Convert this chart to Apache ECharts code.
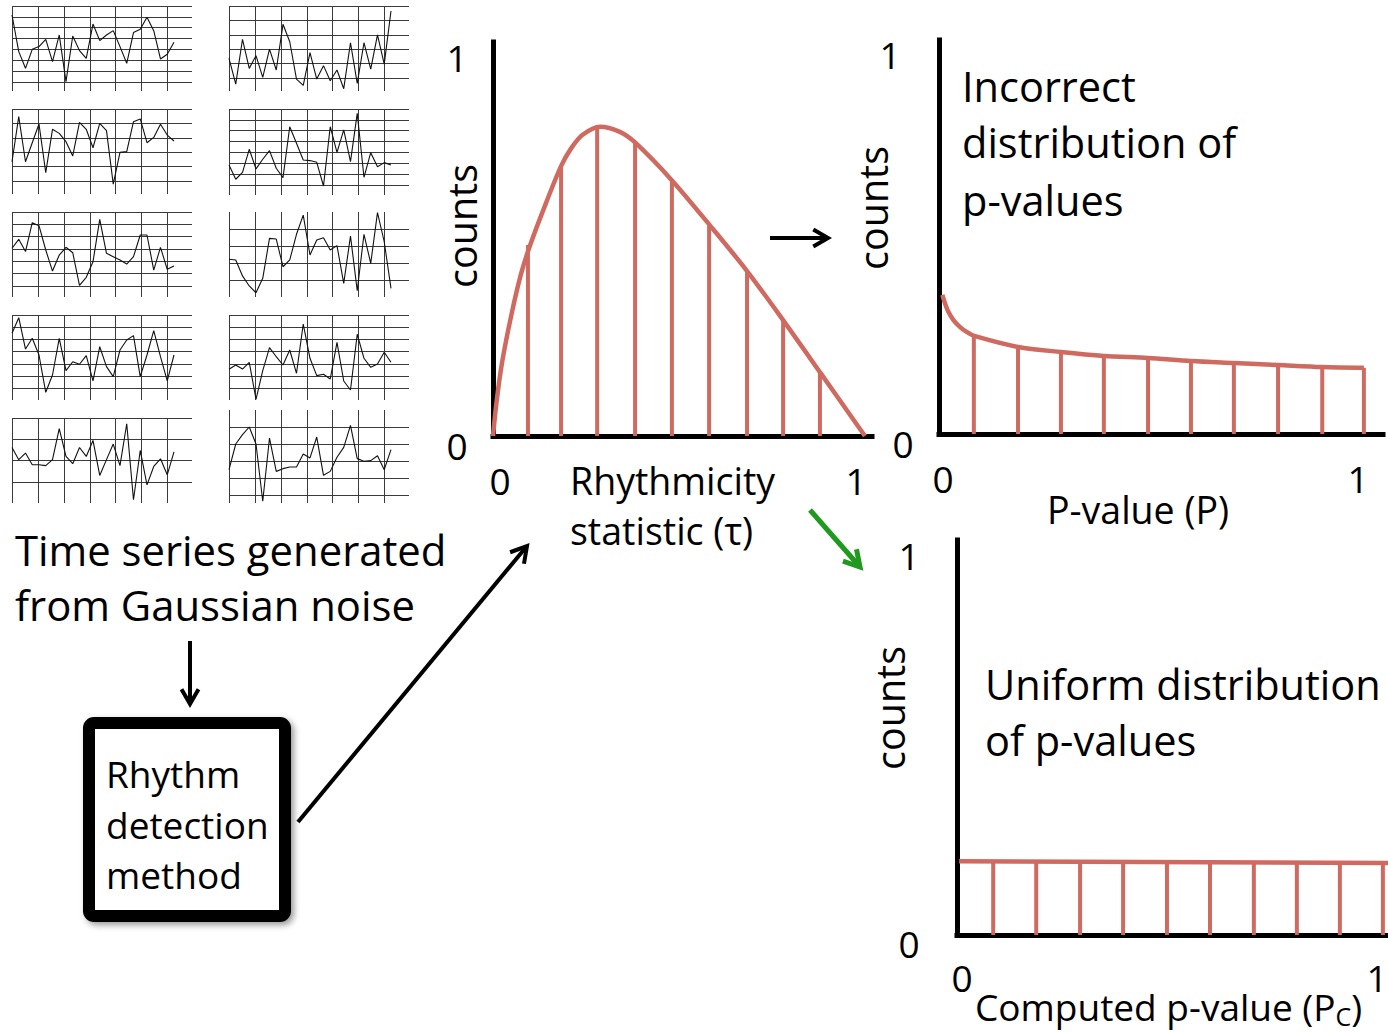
<!DOCTYPE html>
<html><head><meta charset="utf-8">
<script src="https://cdn.jsdelivr.net/npm/echarts@6/dist/echarts.min.js"></script>
<style>html,body{margin:0;padding:0;background:#fff}#c{width:1388px;height:1032px}</style>
</head><body><div id="c"></div>
<script>
// ---- Gaussian-noise time series (grid units, measured downward from the top grid line)
const ts1 = [0.83,4.2,5.74,3.99,3.74,3.07,5.12,2.67,6.96,2.76,4.11,4.82,1.66,3.19,2.67,2.27,3.74,5.28,2.45,2.15,1.04,2.27,4.88,4.45,3.34];
const ts2 = [3.63,5.42,2.31,4.33,3.45,4.95,2.99,4.44,1.27,2.48,5.07,5.51,3.24,5.07,4.14,5.19,4.44,5.74,2.55,5.37,2.55,4.38,2.01,4.03,0.35];
const ts3 = [3.66,0.53,3.66,2.34,1.04,4.42,1.41,1.69,2.27,3.26,0.93,1.41,2.69,1.0,1.5,5.21,3.01,2.96,0.88,0.69,2.34,1.97,1.06,1.81,2.22];
const ts4 = [5.15,6.47,5.83,3.71,5.52,4.63,3.83,5.46,6.32,1.63,3.16,4.69,4.75,4.91,7.09,1.63,3.99,1.93,4.85,0.4,6.29,4.02,5.31,4.94,5.15];
const ts5 = [2.95,2.22,3.22,0.87,1.11,3.09,4.8,3.5,2.87,3.31,5.96,5.31,4.04,0.6,3.36,3.63,3.9,4.23,3.63,1.87,1.87,4.72,2.87,4.66,4.39];
const ts6 = [2.78,2.82,3.76,4.35,4.75,3.9,1.55,1.59,3.22,2.82,1.31,0.18,2.53,1.65,1.51,2.24,1.98,4.2,1.41,4.63,1.31,3.02,0.04,1.75,4.49];
const ts7 = [1.5,0.22,2.79,1.91,3.28,6.34,4.92,1.91,4.56,3.83,4.04,3.33,5.41,2.6,4.23,5.05,2.87,2.05,1.69,5.05,3.28,1.28,3.42,5.41,3.28];
const ts8 = [4.45,4.1,4.43,3.88,6.91,4.56,2.68,3.42,4.1,2.87,4.78,0.74,3.55,4.97,4.86,5.25,2.24,5.41,6.15,1.58,3.55,4.29,4.02,3.06,3.88];
const ts9 = [1.38,1.95,1.64,2.19,2.19,2.23,1.95,0.5,1.8,2.14,1.38,1.8,1.05,2.69,1.95,1.22,2.23,0.27,3.83,1.52,3.13,2.27,1.91,2.66,1.59];
const ts10 = [3.51,2.0,1.45,1.0,2.0,5.37,1.65,3.61,3.45,3.35,3.35,2.59,2.82,1.59,3.84,3.61,2.78,2.2,0.9,2.86,3.02,2.98,2.69,3.51,2.33];
const allTs = [ts1, ts2, ts3, ts4, ts5, ts6, ts7, ts8, ts9, ts10];

// ---- Rhythmicity statistic distribution
const tauCurveX = [0, 0.01, 0.025, 0.05, 0.075, 0.1, 0.144, 0.183, 0.21, 0.24, 0.288, 0.341, 0.382, 0.48, 0.582, 0.682, 0.78, 0.879, 1.0];
const tauCurveY = [0, 0.09, 0.19, 0.31, 0.41, 0.485, 0.595, 0.685, 0.73, 0.764, 0.785, 0.772, 0.745, 0.65, 0.536, 0.42, 0.294, 0.162, 0];
const tauBarX = [0.094, 0.183, 0.28, 0.382, 0.481, 0.581, 0.683, 0.78, 0.879];
const tauBarY = [0.485, 0.686, 0.783, 0.745, 0.649, 0.537, 0.419, 0.294, 0.162];

// ---- Incorrect p-value distribution
const pCurveX = [0.008, 0.014, 0.022, 0.034, 0.049, 0.065, 0.083, 0.186, 0.287, 0.388, 0.492, 0.593, 0.694, 0.798, 0.902, 1.0];
const pCurveY = [0.353, 0.332, 0.31, 0.289, 0.272, 0.259, 0.249, 0.221, 0.208, 0.198, 0.193, 0.185, 0.18, 0.175, 0.17, 0.168];
const pBarX = [0.082, 0.186, 0.287, 0.388, 0.492, 0.593, 0.694, 0.798, 0.902, 1.0];
const pBarY = [0.249, 0.221, 0.208, 0.198, 0.193, 0.185, 0.18, 0.175, 0.17, 0.168];

// ---- Uniform computed p-value distribution
const pcCurveX = [0.005, 1.012];
const pcCurveY = [0.187, 0.182];
const pcBarX = [0.085, 0.186, 0.289, 0.39, 0.493, 0.594, 0.697, 0.798, 0.899, 1.0];
const pcBarY = [0.187, 0.186, 0.186, 0.185, 0.185, 0.184, 0.184, 0.184, 0.183, 0.183];

const tickLabels = ['0', '1'];

// ---- layout (pixels)
const FONT = '"Open Sans", "Noto Sans", sans-serif';
const RED = '#cf6a61';
const panels = [
  {left: 12, top: 6, h: 85, yMax: 7.83, topLine: true},
  {left: 229, top: 6, h: 85, yMax: 5.9, topLine: true},
  {left: 12, top: 109, h: 85, yMax: 5.9, topLine: true},
  {left: 229, top: 109, h: 86, yMax: 7.92, topLine: true},
  {left: 12, top: 212, h: 85, yMax: 6.91, topLine: true},
  {left: 229, top: 212, h: 85, yMax: 5.0, topLine: false},
  {left: 12, top: 315, h: 85, yMax: 6.97, topLine: true},
  {left: 229, top: 315, h: 85, yMax: 6.97, topLine: true},
  {left: 12, top: 418, h: 85, yMax: 3.98, topLine: true},
  {left: 229, top: 410, h: 93, yMax: 5.47, topLine: false}
];

const grids = [], xAxes = [], yAxes = [], series = [];
const gridLine = {color: '#3a3a3a', width: 1};
panels.forEach((p, i) => {
  grids.push({left: p.left, top: p.top, width: 180, height: p.h, outerBoundsMode: 'none'});
  xAxes.push({gridIndex: i, type: 'value', min: 0, max: 26.67, interval: 3.84,
    axisLine: {show: false}, axisTick: {show: false}, axisLabel: {show: false},
    splitLine: {show: true, showMinLine: true, showMaxLine: false, lineStyle: gridLine}});
  yAxes.push({gridIndex: i, type: 'value', inverse: true, min: 0, max: p.yMax, interval: 1,
    axisLine: {show: false}, axisTick: {show: false}, axisLabel: {show: false},
    splitLine: {show: true, showMinLine: p.topLine, showMaxLine: false, lineStyle: gridLine}});
  series.push({type: 'line', xAxisIndex: i, yAxisIndex: i, symbol: 'none', silent: true,
    lineStyle: {color: '#111', width: 1.1}, data: allTs[i].map((v, k) => [k, v])});
});

// main charts
function mainChart(idx, g, xMax, cx, cy, bx, by) {
  grids.push(Object.assign({outerBoundsMode: 'none'}, g));
  xAxes.push({gridIndex: idx, type: 'value', min: 0, max: xMax,
    axisLine: {show: true, onZero: false, lineStyle: {color: '#000', width: 5, cap: 'square'}},
    axisTick: {show: false}, axisLabel: {show: false}, splitLine: {show: false}});
  yAxes.push({gridIndex: idx, type: 'value', min: 0, max: 1,
    axisLine: {show: true, onZero: false, lineStyle: {color: '#000', width: 5, cap: 'square'}},
    axisTick: {show: false}, axisLabel: {show: false}, splitLine: {show: false}});
  series.push({type: 'custom', xAxisIndex: idx, yAxisIndex: idx, silent: true, z: 2,
    encode: {x: 0, y: 1},
    data: bx.map((x, k) => [x, by[k]]),
    renderItem: (params, api) => {
      const p0 = api.coord([api.value(0), 0]);
      const p1 = api.coord([api.value(0), api.value(1)]);
      return {type: 'line', shape: {x1: p0[0], y1: p0[1], x2: p1[0], y2: p1[1]}, style: {stroke: RED, lineWidth: 4}};
    }});
  series.push({type: 'line', xAxisIndex: idx, yAxisIndex: idx, symbol: 'none', smooth: 0.3, silent: true, z: 3,
    lineStyle: {color: RED, width: 4.5}, data: cx.map((x, k) => [x, cy[k]])});
}
mainChart(10, {left: 493, top: 42, width: 379, height: 394}, 1.019, tauCurveX, tauCurveY, tauBarX, tauBarY);
mainChart(11, {left: 939, top: 40, width: 444, height: 394}, 1.045, pCurveX, pCurveY, pBarX, pBarY);
mainChart(12, {left: 957, top: 540, width: 431, height: 395}, 1.012, pcCurveX, pcCurveY, pcBarX, pcBarY);

// ---- texts and decorations
function txt(t, x, y, size, opts) {
  return Object.assign({type: 'text', x: x, y: y, z: 10,
    style: {text: t, fontSize: size, fontFamily: FONT, fill: '#000', align: 'left', verticalAlign: 'middle'}}, opts || {});
}
function ctxt(t, x, y, size) { const e = txt(t, x, y, size); e.style.align = 'center'; return e; }
function vtxt(t, x, y, size) { const e = ctxt(t, x, y, size); e.rotation = Math.PI / 2; return e; }
function arrow(x1, y1, x2, y2, color, w, head) {
  const dx = x2 - x1, dy = y2 - y1, L = Math.hypot(dx, dy), ux = dx / L, uy = dy / L;
  const c = Math.cos(Math.PI / 6), s = Math.sin(Math.PI / 6);
  const a = [x2 - head * (c * ux - s * uy), y2 - head * (s * ux + c * uy)];
  const b = [x2 - head * (c * ux + s * uy), y2 - head * (-s * ux + c * uy)];
  return [
    {type: 'line', z: 10, shape: {x1: x1, y1: y1, x2: x2 - ux * 2, y2: y2 - uy * 2}, style: {stroke: color, lineWidth: w}},
    {type: 'polyline', z: 10, shape: {points: [a, [x2, y2], b]}, style: {stroke: color, lineWidth: w, fill: null, lineJoin: 'miter'}}
  ];
}

const graphics = [
  // box
  {type: 'rect', z: 5, shape: {x: 89, y: 723, width: 196, height: 193, r: 5},
    style: {fill: '#fff', stroke: '#000', lineWidth: 12, shadowBlur: 6, shadowOffsetX: 3, shadowOffsetY: 3, shadowColor: 'rgba(0,0,0,0.4)'}},
  txt('Rhythm', 106, 773, 37),
  txt('detection', 106, 824, 37),
  txt('method', 106, 874, 37),
  txt('Time series generated', 15, 549, 41.8),
  txt('from Gaussian noise', 15, 604, 41.8),
  // chart A
  vtxt('counts', 462, 226, 39.5),
  ctxt(tickLabels[1], 457, 57, 37), ctxt(tickLabels[0], 457, 445, 37),
  ctxt(tickLabels[0], 500, 480, 37), ctxt(tickLabels[1], 856, 480, 37),
  txt('Rhythmicity', 570, 480, 37.5),
  txt('statistic (τ)', 570, 530, 37.5),
  // chart B
  vtxt('counts', 873, 208, 39.5),
  ctxt(tickLabels[1], 890, 54, 37), ctxt(tickLabels[0], 903, 443, 37),
  ctxt(tickLabels[0], 943, 478, 37), ctxt(tickLabels[1], 1358, 478, 37),
  ctxt('P-value (P)', 1138, 509, 37.5),
  txt('Incorrect', 962, 86, 41.5),
  txt('distribution of', 962, 142, 41.5),
  txt('p-values', 962, 200, 41.5),
  // chart C
  vtxt('counts', 890, 708, 39.5),
  ctxt(tickLabels[1], 909, 555, 37), ctxt(tickLabels[0], 909, 943, 37),
  ctxt(tickLabels[0], 962, 977, 37), ctxt(tickLabels[1], 1377, 977, 37),
  txt('Uniform distribution', 985, 684, 41.5),
  txt('of p-values', 985, 740, 41.5),
  {type: 'text', x: 975, y: 1006, z: 10, style: {text: '{n|Computed p-value (P}{s|C}{n|)}', fill: '#000', align: 'left', verticalAlign: 'middle',
    rich: {n: {fontSize: 37, fontFamily: FONT, fill: '#000', lineHeight: 44},
           s: {fontSize: 25, fontFamily: FONT, fill: '#000', lineHeight: 26, verticalAlign: 'bottom'}}}}
].concat(
  arrow(190, 641, 190, 704, '#000', 4, 17),
  arrow(298, 822, 527, 546, '#000', 4, 18),
  arrow(770, 238, 828, 238, '#000', 4, 17),
  arrow(810, 510, 860, 567, '#1f9a1f', 5, 18)
);

const chart = echarts.init(document.getElementById('c'), null, {renderer: 'svg'});
chart.setOption({
  animation: false,
  backgroundColor: '#fff',
  grid: grids, xAxis: xAxes, yAxis: yAxes, series: series,
  graphic: {elements: graphics}
});
</script>
</body></html>
